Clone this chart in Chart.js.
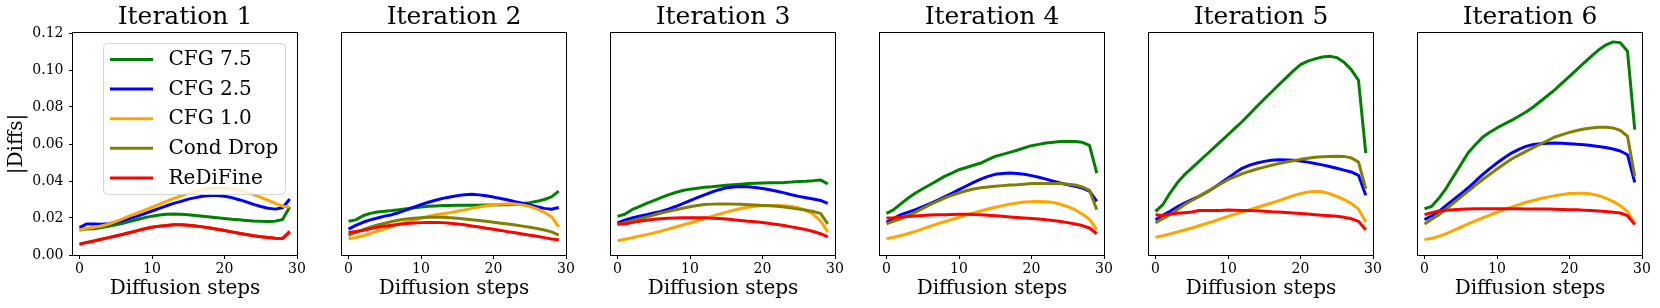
<!DOCTYPE html>
<html><head><meta charset="utf-8">
<script src="https://cdn.jsdelivr.net/npm/chart.js@4/dist/chart.umd.min.js"></script>
<style>
html,body{margin:0;padding:0;background:#fff;width:1660px;height:308px;overflow:hidden}
canvas{position:absolute;top:0}
</style></head><body>
<script>
const steps = [0,1,2,3,4,5,6,7,8,9,10,11,12,13,14,15,16,17,18,19,20,21,22,23,24,25,26,27,28,29];
const xTicks = [0,10,20,30];
const yTicks = [0,0.02,0.04,0.06,0.08,0.10,0.12];
const titles = ['Iteration 1','Iteration 2','Iteration 3','Iteration 4','Iteration 5','Iteration 6'];
const seriesNames = ['CFG 7.5','CFG 2.5','CFG 1.0','Cond Drop','ReDiFine'];
const seriesColors = ['#008000','#0000ff','#ffa500','#808000','#ff0000'];

// one row per iteration (1..6), 30 diffusion steps each
const cfg75 = [
 [0.0135,0.0140,0.0142,0.0148,0.0155,0.0163,0.0172,0.0182,0.0192,0.0202,0.0210,0.0216,0.0220,0.0221,0.0220,0.0217,0.0213,0.0209,0.0205,0.0201,0.0197,0.0193,0.0190,0.0187,0.0184,0.0182,0.0181,0.0183,0.0192,0.0260],
 [0.0182,0.0190,0.0212,0.0225,0.0232,0.0237,0.0240,0.0245,0.0250,0.0255,0.0260,0.0263,0.0265,0.0267,0.0268,0.0269,0.0269,0.0269,0.0269,0.0270,0.0270,0.0271,0.0272,0.0274,0.0278,0.0283,0.0290,0.0300,0.0314,0.0345],
 [0.0209,0.0220,0.0245,0.0262,0.0279,0.0294,0.0310,0.0325,0.0338,0.0349,0.0356,0.0361,0.0366,0.0369,0.0373,0.0377,0.0380,0.0383,0.0386,0.0388,0.0389,0.0390,0.0391,0.0392,0.0394,0.0397,0.0399,0.0402,0.0406,0.0384],
 [0.0225,0.0245,0.0278,0.0308,0.0335,0.0358,0.0380,0.0402,0.0425,0.0443,0.0461,0.0473,0.0485,0.0497,0.0515,0.0533,0.0544,0.0555,0.0566,0.0579,0.0591,0.0598,0.0605,0.0610,0.0614,0.0614,0.0613,0.0609,0.0593,0.0443],
 [0.0236,0.0272,0.0335,0.0390,0.0434,0.0470,0.0506,0.0542,0.0578,0.0614,0.0650,0.0687,0.0723,0.0763,0.0804,0.0843,0.0881,0.0920,0.0957,0.0995,0.1029,0.1048,0.1060,0.1070,0.1074,0.1067,0.1042,0.1002,0.0944,0.0551],
 [0.0250,0.0263,0.0308,0.0362,0.0425,0.0488,0.0551,0.0596,0.0636,0.0663,0.0687,0.0708,0.0728,0.0750,0.0773,0.0800,0.0831,0.0862,0.0894,0.0930,0.0966,0.1002,0.1038,0.1074,0.1108,0.1135,0.1152,0.1148,0.1101,0.0678]
];
const cfg25 = [
 [0.0148,0.0168,0.0167,0.0166,0.0169,0.0176,0.0186,0.0198,0.0210,0.0224,0.0238,0.0252,0.0266,0.0279,0.0290,0.0302,0.0310,0.0318,0.0322,0.0322,0.0318,0.0310,0.0299,0.0287,0.0274,0.0262,0.0253,0.0248,0.0255,0.0303],
 [0.0140,0.0160,0.0177,0.0190,0.0200,0.0210,0.0218,0.0230,0.0244,0.0258,0.0272,0.0285,0.0296,0.0306,0.0314,0.0321,0.0326,0.0328,0.0325,0.0320,0.0313,0.0305,0.0297,0.0288,0.0280,0.0271,0.0261,0.0252,0.0247,0.0257],
 [0.0173,0.0188,0.0200,0.0209,0.0218,0.0227,0.0236,0.0248,0.0262,0.0278,0.0294,0.0310,0.0325,0.0340,0.0353,0.0363,0.0368,0.0370,0.0369,0.0365,0.0360,0.0353,0.0345,0.0336,0.0326,0.0317,0.0310,0.0303,0.0295,0.0279],
 [0.0177,0.0198,0.0218,0.0232,0.0245,0.0261,0.0278,0.0296,0.0314,0.0333,0.0353,0.0373,0.0393,0.0410,0.0425,0.0436,0.0441,0.0443,0.0441,0.0436,0.0429,0.0420,0.0410,0.0399,0.0389,0.0380,0.0371,0.0362,0.0345,0.0290],
 [0.0191,0.0215,0.0236,0.0260,0.0281,0.0299,0.0317,0.0338,0.0362,0.0389,0.0416,0.0444,0.0470,0.0486,0.0497,0.0506,0.0512,0.0515,0.0514,0.0512,0.0508,0.0502,0.0495,0.0487,0.0478,0.0469,0.0459,0.0449,0.0431,0.0323],
 [0.0191,0.0212,0.0236,0.0268,0.0299,0.0330,0.0362,0.0398,0.0434,0.0467,0.0497,0.0526,0.0551,0.0571,0.0587,0.0597,0.0602,0.0604,0.0605,0.0604,0.0602,0.0599,0.0596,0.0592,0.0587,0.0581,0.0573,0.0562,0.0542,0.0393]
];
const cfg10 = [
 [0.0135,0.0145,0.0150,0.0157,0.0167,0.0181,0.0197,0.0213,0.0228,0.0243,0.0258,0.0273,0.0290,0.0306,0.0320,0.0333,0.0344,0.0353,0.0359,0.0362,0.0361,0.0357,0.0350,0.0340,0.0327,0.0312,0.0296,0.0279,0.0264,0.0260],
 [0.0088,0.0095,0.0104,0.0116,0.0129,0.0142,0.0155,0.0166,0.0177,0.0188,0.0199,0.0209,0.0217,0.0223,0.0229,0.0236,0.0244,0.0252,0.0259,0.0266,0.0271,0.0275,0.0277,0.0276,0.0271,0.0262,0.0249,0.0231,0.0207,0.0152],
 [0.0077,0.0085,0.0093,0.0102,0.0110,0.0119,0.0129,0.0140,0.0151,0.0162,0.0173,0.0185,0.0197,0.0209,0.0221,0.0232,0.0242,0.0251,0.0258,0.0263,0.0266,0.0268,0.0268,0.0266,0.0262,0.0255,0.0242,0.0220,0.0185,0.0125],
 [0.0088,0.0096,0.0105,0.0116,0.0128,0.0141,0.0155,0.0168,0.0180,0.0192,0.0204,0.0216,0.0227,0.0238,0.0249,0.0258,0.0267,0.0275,0.0281,0.0286,0.0288,0.0289,0.0288,0.0284,0.0274,0.0261,0.0245,0.0222,0.0192,0.0137],
 [0.0096,0.0104,0.0114,0.0124,0.0135,0.0146,0.0158,0.0170,0.0182,0.0196,0.0209,0.0221,0.0233,0.0245,0.0257,0.0269,0.0281,0.0294,0.0307,0.0321,0.0332,0.0339,0.0344,0.0342,0.0332,0.0317,0.0300,0.0279,0.0249,0.0178],
 [0.0083,0.0090,0.0101,0.0116,0.0133,0.0150,0.0168,0.0184,0.0200,0.0216,0.0231,0.0245,0.0259,0.0272,0.0285,0.0295,0.0305,0.0313,0.0321,0.0327,0.0332,0.0334,0.0334,0.0330,0.0321,0.0307,0.0290,0.0266,0.0236,0.0169]
];
const condDrop = [
 [0.0058,0.0068,0.0076,0.0085,0.0094,0.0103,0.0112,0.0122,0.0132,0.0142,0.0150,0.0156,0.0160,0.0163,0.0163,0.0161,0.0157,0.0152,0.0146,0.0139,0.0132,0.0125,0.0118,0.0111,0.0104,0.0099,0.0094,0.0090,0.0089,0.0122],
 [0.0106,0.0122,0.0137,0.0150,0.0162,0.0172,0.0181,0.0189,0.0195,0.0199,0.0202,0.0204,0.0204,0.0204,0.0202,0.0199,0.0195,0.0191,0.0187,0.0182,0.0177,0.0172,0.0167,0.0162,0.0156,0.0150,0.0143,0.0135,0.0125,0.0108],
 [0.0164,0.0174,0.0184,0.0195,0.0205,0.0216,0.0227,0.0236,0.0245,0.0253,0.0261,0.0268,0.0273,0.0275,0.0276,0.0276,0.0275,0.0274,0.0272,0.0270,0.0268,0.0266,0.0263,0.0259,0.0254,0.0248,0.0242,0.0235,0.0225,0.0168],
 [0.0168,0.0183,0.0196,0.0214,0.0232,0.0252,0.0272,0.0290,0.0308,0.0322,0.0335,0.0347,0.0357,0.0363,0.0368,0.0372,0.0375,0.0378,0.0380,0.0383,0.0386,0.0387,0.0387,0.0387,0.0386,0.0383,0.0378,0.0368,0.0350,0.0245],
 [0.0173,0.0197,0.0218,0.0245,0.0272,0.0295,0.0317,0.0340,0.0362,0.0385,0.0407,0.0424,0.0440,0.0453,0.0465,0.0475,0.0485,0.0494,0.0503,0.0510,0.0517,0.0523,0.0528,0.0531,0.0533,0.0534,0.0533,0.0525,0.0503,0.0357],
 [0.0168,0.0193,0.0218,0.0250,0.0281,0.0313,0.0344,0.0376,0.0407,0.0436,0.0465,0.0492,0.0519,0.0540,0.0560,0.0580,0.0600,0.0619,0.0638,0.0651,0.0663,0.0673,0.0681,0.0687,0.0690,0.0690,0.0687,0.0674,0.0642,0.0425]
];
const redifine = [
 [0.0058,0.0068,0.0076,0.0085,0.0094,0.0103,0.0112,0.0122,0.0132,0.0142,0.0150,0.0156,0.0160,0.0163,0.0163,0.0161,0.0157,0.0152,0.0146,0.0139,0.0132,0.0125,0.0118,0.0111,0.0104,0.0099,0.0094,0.0090,0.0089,0.0128],
 [0.0122,0.0127,0.0133,0.0142,0.0150,0.0156,0.0161,0.0166,0.0170,0.0173,0.0175,0.0176,0.0176,0.0175,0.0172,0.0168,0.0163,0.0157,0.0151,0.0145,0.0139,0.0133,0.0126,0.0120,0.0114,0.0107,0.0101,0.0094,0.0087,0.0083],
 [0.0169,0.0168,0.0175,0.0182,0.0188,0.0193,0.0196,0.0198,0.0200,0.0201,0.0202,0.0202,0.0201,0.0199,0.0197,0.0194,0.0190,0.0187,0.0183,0.0180,0.0176,0.0170,0.0165,0.0159,0.0152,0.0145,0.0137,0.0127,0.0115,0.0098],
 [0.0200,0.0202,0.0205,0.0208,0.0211,0.0214,0.0216,0.0217,0.0218,0.0219,0.0220,0.0220,0.0219,0.0217,0.0215,0.0212,0.0209,0.0206,0.0203,0.0200,0.0197,0.0194,0.0190,0.0186,0.0181,0.0175,0.0168,0.0159,0.0146,0.0115],
 [0.0218,0.0214,0.0221,0.0226,0.0229,0.0232,0.0241,0.0241,0.0240,0.0241,0.0243,0.0242,0.0241,0.0240,0.0239,0.0237,0.0234,0.0232,0.0230,0.0227,0.0224,0.0221,0.0218,0.0215,0.0212,0.0209,0.0204,0.0196,0.0182,0.0137],
 [0.0218,0.0229,0.0238,0.0242,0.0245,0.0247,0.0249,0.0250,0.0250,0.0250,0.0250,0.0250,0.0250,0.0250,0.0249,0.0249,0.0249,0.0248,0.0247,0.0246,0.0245,0.0244,0.0242,0.0240,0.0238,0.0235,0.0231,0.0227,0.0213,0.0164]
];
const allSeries = [cfg75, cfg25, cfg10, condDrop, redifine];

const FONT = '"DejaVu Serif", serif';
const panelLeft = [73, 342, 611, 880, 1149, 1418];
const PLOT_W = 224, H = 308, TOP = 33, BOTTOM = 255, RIGHT_PAD = 12;
Chart.defaults.color = '#000';

const framePlugin = {
  id: 'frame',
  afterDatasetsDraw(chart) {
    const {ctx, chartArea: a} = chart;
    ctx.save();
    ctx.strokeStyle = '#000';
    ctx.lineWidth = 1;
    ctx.strokeRect(Math.round(a.left) - 0.5, Math.round(a.top) - 0.5,
                   Math.round(a.right - a.left) + 1, Math.round(a.bottom - a.top) + 1);
    ctx.restore();
  }
};

const legendPlugin = {
  id: 'innerLegend',
  afterDraw(chart, args, opts) {
    if (!opts || !opts.show) return;
    const {ctx, chartArea: a} = chart;
    const x0 = a.left + 30.5, y0 = a.top + 10.5, w = 182, h = 151, r = 4;
    ctx.save();
    ctx.beginPath();
    ctx.moveTo(x0 + r, y0);
    ctx.lineTo(x0 + w - r, y0); ctx.quadraticCurveTo(x0 + w, y0, x0 + w, y0 + r);
    ctx.lineTo(x0 + w, y0 + h - r); ctx.quadraticCurveTo(x0 + w, y0 + h, x0 + w - r, y0 + h);
    ctx.lineTo(x0 + r, y0 + h); ctx.quadraticCurveTo(x0, y0 + h, x0, y0 + h - r);
    ctx.lineTo(x0, y0 + r); ctx.quadraticCurveTo(x0, y0, x0 + r, y0);
    ctx.closePath();
    ctx.fillStyle = 'rgba(255,255,255,0.8)';
    ctx.fill();
    ctx.strokeStyle = 'rgba(204,204,204,0.8)';
    ctx.lineWidth = 1;
    ctx.stroke();
    ctx.font = '20px ' + FONT;
    ctx.textBaseline = 'middle';
    ctx.textAlign = 'left';
    chart.data.datasets.forEach((ds, k) => {
      const y = a.top + 26.5 + 29.6 * k;
      ctx.strokeStyle = ds.borderColor;
      ctx.lineWidth = 3;
      ctx.beginPath();
      ctx.moveTo(a.left + 37, y);
      ctx.lineTo(a.left + 80, y);
      ctx.stroke();
      ctx.fillStyle = '#000';
      ctx.fillText(ds.label, a.left + 95.5, y + 0.5);
    });
    ctx.restore();
  }
};

for (let i = 0; i < 6; i++) {
  const yw = i === 0 ? 73 : 12;
  const cw = yw + PLOT_W + RIGHT_PAD;
  const cv = document.createElement('canvas');
  cv.width = cw; cv.height = H;
  cv.style.left = (panelLeft[i] - yw) + 'px';
  cv.style.width = cw + 'px'; cv.style.height = H + 'px';
  document.body.appendChild(cv);

  const datasets = seriesNames.map((name, k) => ({
    label: name,
    data: steps.map((s, j) => ({x: s, y: allSeries[k][i][j]})),
    borderColor: seriesColors[k],
    backgroundColor: seriesColors[k],
    borderWidth: 3,
    pointRadius: 0,
    tension: 0,
    fill: false,
    borderJoinStyle: 'round',
    order: 4 - k
  }));

  new Chart(cv.getContext('2d'), {
    type: 'line',
    data: {datasets},
    plugins: [framePlugin, legendPlugin],
    options: {
      responsive: false,
      animation: false,
      devicePixelRatio: 1,
      layout: {padding: {left: 0, right: RIGHT_PAD, top: 0, bottom: 0}},
      plugins: {
        legend: {display: false},
        tooltip: {enabled: false},
        innerLegend: {show: i === 0},
        title: {
          display: true, fullSize: false, text: titles[i], color: '#000',
          font: {family: FONT, size: 25, weight: 'normal', lineHeight: 1},
          padding: {top: 5.1, bottom: TOP - 25 - 5.1}
        }
      },
      scales: {
        x: {
          type: 'linear', min: -0.9, max: 30,
          afterBuildTicks: s => { s.ticks = xTicks.map(v => ({value: v})); },
          afterFit: s => { s.height = H - BOTTOM; s.paddingLeft = 0; s.paddingRight = 0; },
          border: {display: false},
          grid: {display: true, drawOnChartArea: false, drawTicks: true, tickLength: 4, color: '#000', lineWidth: 1},
          ticks: {color: '#000', font: {family: FONT, size: 14}, padding: 2, maxRotation: 0, autoSkip: false,
                  callback: v => String(v)},
          title: {display: true, text: 'Diffusion steps', color: '#000',
                  font: {family: FONT, size: 20, lineHeight: 1.2}, padding: {top: 0, bottom: 7.3}}
        },
        y: {
          type: 'linear', min: 0, max: 0.12,
          afterBuildTicks: s => { s.ticks = yTicks.map(v => ({value: v})); },
          afterFit: s => { s.width = yw; s.paddingTop = 0; s.paddingBottom = 0; },
          border: {display: false},
          grid: {display: i === 0, drawOnChartArea: false, drawTicks: true, tickLength: 4, color: '#000', lineWidth: 1},
          ticks: {display: i === 0, color: '#000', font: {family: FONT, size: 14}, padding: 5.5,
                  callback: v => Number(v).toFixed(2)},
          title: {display: i === 0, text: '|Diffs|', color: '#000',
                  font: {family: FONT, size: 20, lineHeight: 1.2}, padding: {top: 4.8, bottom: 0}}
        }
      }
    }
  });
}
</script>
</body></html>
